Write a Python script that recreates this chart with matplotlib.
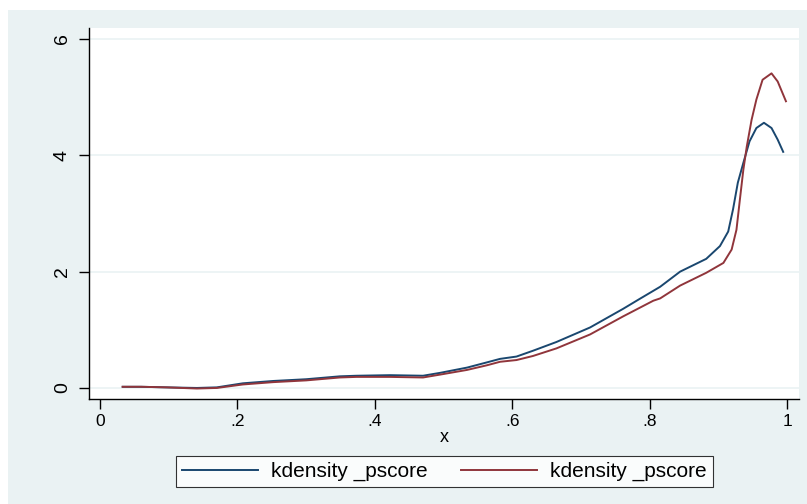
import matplotlib.pyplot as plt
from matplotlib.patches import Rectangle

# kdensity curves
x_blue = [0.033, 0.06, 0.097, 0.141, 0.17, 0.208, 0.252, 0.30, 0.349, 0.373,
          0.422, 0.47, 0.495, 0.534, 0.563, 0.582, 0.606, 0.63, 0.664, 0.713,
          0.761, 0.785, 0.815, 0.844, 0.882, 0.902, 0.914, 0.921, 0.928, 0.936,
          0.945, 0.955, 0.966, 0.977, 0.986, 0.994]
y_blue = [0.02, 0.02, 0.01, 0.00, 0.01, 0.08, 0.12, 0.15, 0.20, 0.21,
          0.22, 0.21, 0.26, 0.35, 0.44, 0.50, 0.54, 0.64, 0.79, 1.04,
          1.36, 1.53, 1.74, 2.00, 2.22, 2.44, 2.69, 3.07, 3.53, 3.87,
          4.24, 4.47, 4.56, 4.47, 4.27, 4.06]

x_red = [0.033, 0.06, 0.097, 0.141, 0.17, 0.208, 0.252, 0.30, 0.349, 0.373,
         0.422, 0.47, 0.495, 0.534, 0.563, 0.582, 0.606, 0.63, 0.664, 0.713,
         0.761, 0.805, 0.815, 0.844, 0.882, 0.907, 0.919, 0.926, 0.931, 0.936,
         0.941, 0.948, 0.955, 0.964, 0.977, 0.986, 0.998]
y_red = [0.02, 0.02, 0.01, -0.01, 0.00, 0.06, 0.10, 0.13, 0.18, 0.19,
         0.19, 0.18, 0.23, 0.31, 0.39, 0.45, 0.48, 0.55, 0.68, 0.92,
         1.23, 1.50, 1.54, 1.76, 1.98, 2.15, 2.38, 2.72, 3.24, 3.75,
         4.15, 4.61, 4.96, 5.30, 5.41, 5.27, 4.93]

labels = ['kdensity _pscore', 'kdensity _pscore']
xticks = [0, 0.2, 0.4, 0.6, 0.8, 1.0]
xticklabels = ['0', '.2', '.4', '.6', '.8', '1']
yticks = [0, 2, 4, 6]

bg = '#EAF2F3'
plt.rcParams['font.family'] = ['Liberation Sans', 'DejaVu Sans']

W, H = 807, 504
fig = plt.figure(figsize=(W / 100, H / 100), dpi=100)
# stata-style graph region, leaving a thin white strip top/left
fig.patches.append(Rectangle((8 / W, 0), 1, (H - 10) / H,
                             transform=fig.transFigure, facecolor=bg,
                             edgecolor='none', zorder=-5))

ax = fig.add_axes([89 / W, 105 / H, 710 / W, 371 / H])
ax.set_facecolor('white')
ax.plot(x_blue, y_blue, color='#1A476F', lw=1.4, label=labels[0])
ax.plot(x_red, y_red, color='#90353B', lw=1.4, label=labels[1])

ax.set_xlim(-0.016, 1.017)
ax.set_ylim(-0.19, 6.19)
ax.set_xticks(xticks)
ax.set_xticklabels(xticklabels)
ax.set_yticks(yticks)
ax.set_yticklabels([str(v) for v in yticks], rotation=90, va='center')
ax.tick_params(length=7, width=1, color='black')
ax.tick_params(axis='y', pad=6, labelsize=14)
ax.tick_params(axis='x', pad=4, labelsize=12.5)
ax.grid(axis='y', color=bg, lw=1.2)
ax.set_axisbelow(True)
for s in ['top', 'right']:
    ax.spines[s].set_visible(False)
ax.spines['left'].set_linewidth(1)
ax.spines['bottom'].set_linewidth(1)
ax.set_xlabel('x', fontsize=13, labelpad=0)

leg = fig.legend(loc='center', bbox_to_anchor=(444 / W, 1 - 471.5 / H),
                 ncol=2, fontsize=15, frameon=True, fancybox=False,
                 handlelength=3.65, handletextpad=0.62, columnspacing=1.6,
                 borderpad=0.3, borderaxespad=0)
leg.get_frame().set_edgecolor('black')
leg.get_frame().set_linewidth(0.8)

fig.savefig('out.png', dpi=100)
